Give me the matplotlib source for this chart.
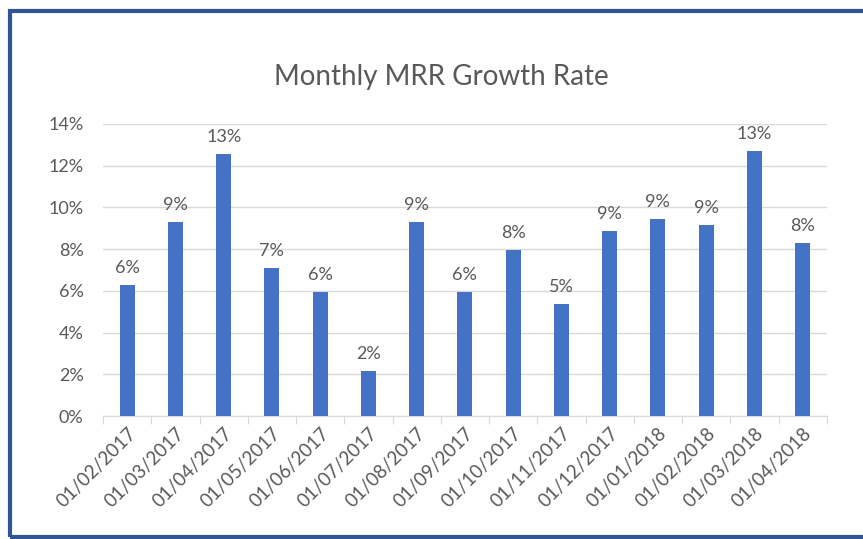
import matplotlib.pyplot as plt
from matplotlib.patches import Rectangle
from matplotlib.ticker import FuncFormatter

months = ["01/02/2017", "01/03/2017", "01/04/2017", "01/05/2017", "01/06/2017",
          "01/07/2017", "01/08/2017", "01/09/2017", "01/10/2017", "01/11/2017",
          "01/12/2017", "01/01/2018", "01/02/2018", "01/03/2018", "01/04/2018"]
growth = [6.28, 9.3, 12.56, 7.09, 5.94, 2.16, 9.3, 5.94, 7.96, 5.37,
          8.87, 9.44, 9.16, 12.7, 8.29]

plt.rcParams['font.family'] = ['Lato', 'DejaVu Sans']
text_col = "#595959"

fig = plt.figure(figsize=(8.63, 5.39), dpi=100)
ax = fig.add_axes([0.1194, 0.2282, 0.8386, 0.5418])

x = range(len(months))
ax.bar(x, growth, width=0.31, color="#4472C4", zorder=3)
for i, v in zip(x, growth):
    ax.text(i, v + 0.45, f"{round(v):.0f}%", ha="center", va="bottom",
            fontsize=13, color=text_col)

ax.set_xlim(-0.5, len(months) - 0.5)
ax.set_ylim(0, 14)
ax.set_yticks(range(0, 15, 2))
ax.yaxis.set_major_formatter(FuncFormatter(lambda v, p: f"{v:.0f}%"))
ax.grid(axis="y", color="#D9D9D9", linewidth=1, zorder=0)
for s in ["top", "right", "left"]:
    ax.spines[s].set_visible(False)
ax.spines["bottom"].set_color("#D9D9D9")

ax.set_xticks([i - 0.5 for i in range(len(months) + 1)], minor=False)
ax.set_xticklabels([])
ax.tick_params(axis="x", which="major", length=6, color="#D9D9D9")
ax.set_xticks(list(x), minor=True)
ax.set_xticklabels(months, minor=True, rotation=45, ha="right",
                   rotation_mode="anchor", fontsize=13.5, color=text_col)
ax.tick_params(axis="x", which="minor", length=0, pad=6)
ax.tick_params(axis="y", length=0, labelsize=13, labelcolor=text_col, pad=14)

fig.text(0.512, 0.857, "Monthly MRR Growth Rate", ha="center", va="center",
         fontsize=20, color=text_col)

# frame around chart area
fig.patches.append(Rectangle((10 / 863, 2 / 539), 1.1, 526 / 539,
                             transform=fig.transFigure, fill=False,
                             edgecolor="#2F5597", linewidth=3, clip_on=False))

fig.savefig("out.png", dpi=100)
